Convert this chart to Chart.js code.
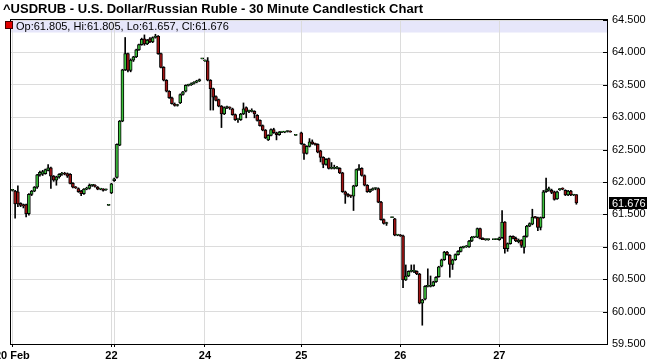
<!DOCTYPE html>
<html><head><meta charset="utf-8">
<script src="https://cdn.jsdelivr.net/npm/chart.js@4"></script>
<style>html,body{margin:0;padding:0;background:#fff;overflow:hidden}</style>
</head><body>
<canvas id="c" width="648" height="363"></canvas>
<script>
const titleText = '^USDRUB - U.S. Dollar/Russian Ruble - 30 Minute Candlestick Chart';
const legendText = 'Op:61.805, Hi:61.805, Lo:61.657, Cl:61.676';
const slotCount = 217;
const tickIdx  = [0, 36, 37, 70, 105, 141, 177];
const tickText = ['20 Feb', '22', '', '24', '25', '26', '27'];
const yMin = 59.5, yMax = 64.5, yStep = 0.5;

const openV = [
61.87,61.86,61.85,61.67,61.65,61.65,61.51,61.81,61.86,61.92,
62.11,62.12,62.13,62.18,62.22,62.09,62.03,62.08,62.12,62.13,
62.13,62.12,61.98,61.92,61.90,61.86,61.82,61.89,61.90,61.95,
61.95,61.92,61.89,61.89,61.88,61.64,
61.83,62.02,62.07,62.57,62.94,63.73,63.98,63.72,63.88,63.93,
64.04,64.12,64.21,64.13,64.21,64.16,64.23,64.25,63.98,63.77,
63.57,63.40,63.30,63.20,63.18,63.22,63.35,63.40,63.49,63.50,
63.52,63.54,63.56,63.90,
63.87,63.87,63.57,63.44,63.32,63.27,63.17,63.05,63.15,63.15,
63.13,63.04,62.96,62.96,63.05,63.15,63.09,63.09,63.09,63.03,
62.95,62.87,62.80,62.65,62.72,62.81,62.76,62.73,62.77,62.77,
62.78,62.78,null,62.72,null,
62.76,62.58,62.44,62.55,62.62,62.59,62.58,62.48,62.38,62.27,
62.36,62.21,62.21,62.21,62.21,62.14,61.85,61.81,61.79,61.78,
61.94,62.19,62.21,62.10,61.95,61.85,61.88,61.90,61.90,61.69,
61.42,61.36,null,61.45,61.43,61.18,
61.18,61.17,60.49,60.55,60.62,60.62,60.62,60.58,60.13,60.19,
60.39,60.39,60.40,60.46,60.54,60.70,60.80,60.92,60.87,60.73,
60.80,60.88,60.93,60.99,61.00,61.00,61.09,61.15,61.15,61.28,
61.13,61.11,61.11,null,61.11,61.11,
61.11,61.14,61.38,60.97,61.05,61.16,61.13,61.08,61.10,60.99,
61.16,61.32,61.35,61.46,61.45,61.30,61.45,61.85,61.88,61.87,
61.85,61.74,61.88,61.90,61.87,61.80,61.86,61.80,61.805
];
const highV = [
61.88,61.87,61.94,61.68,61.66,61.66,61.82,61.87,61.93,62.12,
62.17,62.18,62.20,62.27,62.23,62.10,62.09,62.13,62.15,62.15,
62.14,62.13,61.99,61.93,61.91,61.87,61.90,61.92,61.97,61.96,
61.96,61.93,61.90,61.90,61.89,61.64,
61.98,62.06,62.59,62.95,63.74,64.23,63.99,63.90,63.94,64.05,
64.13,64.22,64.27,64.20,64.23,64.24,64.28,64.26,63.99,63.78,
63.58,63.41,63.31,63.22,63.20,63.36,63.40,63.50,63.51,63.53,
63.55,63.57,63.59,63.90,
63.88,63.92,63.58,63.45,63.33,63.28,63.18,63.16,63.17,63.16,
63.14,63.05,62.98,63.06,63.22,63.16,63.11,63.13,63.10,63.04,
62.96,62.88,62.81,62.73,62.82,62.83,62.77,62.78,62.78,62.78,
62.79,62.79,null,62.72,null,
62.77,62.59,62.56,62.67,62.65,62.60,62.59,62.49,62.39,62.36,
62.37,62.30,62.26,62.24,62.22,62.15,61.86,61.82,61.80,61.95,
62.20,62.27,62.22,62.11,61.96,61.89,61.91,61.91,61.91,61.70,
61.43,61.38,null,61.45,61.44,61.19,
61.19,61.18,60.72,60.63,60.72,60.72,60.63,60.59,60.19,60.40,
60.66,60.55,60.47,60.54,60.70,60.81,60.93,60.93,60.88,60.81,
60.89,60.94,61.00,61.01,61.02,61.10,61.16,61.16,61.29,61.29,
61.14,61.12,61.12,null,61.11,61.12,
61.15,61.56,61.39,61.06,61.17,61.17,61.15,61.12,61.11,61.17,
61.33,61.37,61.58,61.47,61.46,61.46,61.87,62.06,61.92,61.89,
61.86,61.86,61.90,61.91,61.88,61.87,61.87,61.81,61.805
];
const lowV = [
61.86,61.44,61.62,61.62,61.60,61.46,61.49,61.79,61.85,61.90,
62.09,62.10,62.12,62.17,61.90,62.01,61.95,62.06,62.10,62.11,
62.07,61.97,61.91,61.90,61.84,61.79,61.81,61.88,61.89,61.93,
61.92,61.88,61.88,61.86,61.87,61.64,
61.82,62.01,62.06,62.56,62.93,63.72,63.70,63.70,63.86,63.92,
64.03,64.11,64.11,64.12,64.15,64.15,64.22,63.97,63.76,63.56,
63.39,63.29,63.20,63.17,63.17,63.21,63.34,63.39,63.48,63.49,
63.51,63.53,63.55,63.90,
63.86,63.56,63.11,63.11,63.25,63.16,62.84,63.04,63.13,63.12,
63.03,62.95,62.92,62.95,63.04,62.99,63.07,63.08,62.99,62.94,
62.86,62.79,62.67,62.64,62.71,62.75,62.65,62.72,62.76,62.76,
62.77,62.77,null,62.72,null,
62.58,62.35,62.43,62.54,62.58,62.57,62.45,62.31,62.22,62.26,
62.20,62.20,62.20,62.20,62.13,61.84,61.67,61.77,61.76,61.56,
61.93,62.18,62.09,61.94,61.84,61.84,61.87,61.88,61.68,61.41,
61.35,61.33,null,61.45,61.17,61.17,
61.16,60.37,60.48,60.54,60.61,60.60,60.57,60.12,59.79,60.18,
60.38,60.38,60.39,60.45,60.53,60.69,60.79,60.87,60.53,60.65,
60.79,60.87,60.92,60.98,60.99,60.99,61.08,61.14,61.14,61.12,
61.11,61.10,61.10,null,61.11,61.11,
61.10,61.13,60.90,60.93,61.04,61.12,61.08,61.06,60.99,60.90,
61.15,61.31,61.34,61.44,61.25,61.26,61.44,61.84,61.86,61.82,
61.72,61.73,61.87,61.88,61.79,61.79,61.79,61.79,61.657
];
const closeV = [
61.87,61.66,61.66,61.64,61.63,61.51,61.81,61.86,61.92,62.11,
62.15,62.16,62.19,62.22,62.09,62.03,62.08,62.12,62.13,62.12,
62.09,61.98,61.92,61.91,61.85,61.82,61.89,61.90,61.95,61.95,
61.93,61.89,61.89,61.87,61.88,61.64,
61.97,62.05,62.58,62.94,63.73,63.98,63.72,63.88,63.93,64.04,
64.12,64.20,64.13,64.19,64.16,64.23,64.25,63.98,63.77,63.57,
63.40,63.30,63.21,63.18,63.19,63.35,63.39,63.49,63.50,63.52,
63.54,63.56,63.58,63.90,
63.87,63.57,63.44,63.31,63.26,63.17,63.05,63.15,63.15,63.14,
63.04,62.96,62.96,63.05,63.13,63.09,63.09,63.09,63.05,62.95,
62.87,62.80,62.68,62.72,62.81,62.76,62.73,62.77,62.77,62.78,
62.78,62.77,null,62.72,null,
62.59,62.44,62.55,62.62,62.59,62.58,62.46,62.38,62.27,62.35,
62.21,62.21,62.21,62.21,62.14,61.85,61.81,61.78,61.78,61.94,
62.19,62.21,62.10,61.95,61.85,61.88,61.90,61.90,61.69,61.42,
61.36,61.36,null,61.45,61.18,61.18,
61.17,60.49,60.55,60.62,60.62,60.62,60.58,60.13,60.18,60.39,
60.39,60.40,60.46,60.53,60.69,60.80,60.92,60.88,60.73,60.80,
60.88,60.93,60.99,61.00,61.01,61.09,61.15,61.15,61.28,61.13,
61.11,61.11,61.11,null,61.11,61.11,
61.14,61.38,60.97,61.05,61.16,61.13,61.09,61.10,61.02,61.16,
61.32,61.36,61.46,61.45,61.30,61.45,61.85,61.88,61.90,61.84,
61.73,61.85,61.90,61.89,61.80,61.86,61.80,61.80,61.676
];

const UP = '#3cc03c', DOWN = '#a01414';
const FONT = '"Liberation Sans", Arial, sans-serif';
const labels = Array.from({length: slotCount}, (_, i) => String(i));
const bodies = openV.map((o, i) => o == null ? null : [o, closeV[i]]);
const wicks = lowV.map((l, i) => l == null ? null : [l, highV[i]]);
const bodyColors = openV.map((o, i) => o == null ? UP : (closeV[i] >= o ? UP : DOWN));
const lastClose = closeV[closeV.length - 1];

const deco = {
  id: 'deco',
  beforeDraw(chart) {
    const {ctx, chartArea: a} = chart;
    ctx.save();
    ctx.fillStyle = '#fff';
    ctx.fillRect(0, 0, chart.width, chart.height);
    ctx.fillStyle = '#e6e6fa';
    ctx.fillRect(a.left, a.top, a.right - a.left, 12.5);
    ctx.restore();
  },
  afterDraw(chart) {
    const {ctx, chartArea: a, scales} = chart;
    const ys = scales.y;
    ctx.save();
    ctx.strokeStyle = '#000';
    ctx.lineWidth = 1;
    ctx.strokeRect(a.left - 0.5, a.top - 0.5, a.right - a.left, a.bottom - a.top + 1);
    ctx.beginPath();
    ys.ticks.forEach(t => {
      const py = Math.round(ys.getPixelForValue(t.value)) + 0.5;
      ctx.moveTo(a.right - 5, py);
      ctx.lineTo(a.right, py);
    });
    ctx.stroke();
    // title
    ctx.fillStyle = '#000';
    ctx.font = 'bold 13px ' + FONT;
    ctx.textBaseline = 'alphabetic';
    ctx.textAlign = 'left';
    ctx.fillText(titleText, 3, 13);
    // legend
    ctx.fillStyle = '#e00000';
    ctx.fillRect(5, 21, 8, 8);
    ctx.strokeStyle = '#400';
    ctx.strokeRect(5.5, 21.5, 7, 7);
    ctx.fillStyle = '#000';
    ctx.font = '11px ' + FONT;
    ctx.fillText(legendText, 16, 30);
    // last value marker
    const py = ys.getPixelForValue(lastClose);
    ctx.fillStyle = '#000';
    ctx.fillRect(a.right + 1, Math.round(py) - 6, 38, 12);
    ctx.fillStyle = '#fff';
    ctx.font = '11px ' + FONT;
    ctx.textBaseline = 'middle';
    ctx.fillText(lastClose.toFixed(3), a.right + 4, Math.round(py) + 0.5);
    ctx.restore();
  }
};

new Chart(document.getElementById('c'), {
  type: 'bar',
  data: {
    labels: labels,
    datasets: [
      { data: bodies, backgroundColor: bodyColors, borderColor: '#000', borderWidth: 1,
        borderSkipped: false, barThickness: 3, minBarLength: 1, grouped: false, order: 0 },
      { data: wicks, backgroundColor: '#000', borderWidth: 0, barThickness: 1,
        grouped: false, order: 1 }
    ]
  },
  options: {
    responsive: false,
    animation: false,
    devicePixelRatio: 1,
    layout: { padding: { left: 11, top: 20, right: 0, bottom: 0 } },
    plugins: { legend: { display: false }, tooltip: { enabled: false }, title: { display: false } },
    scales: {
      x: {
        type: 'category',
        offset: true,
        grid: { offset: false, color: '#dcdcdc', tickColor: '#000', tickLength: 3 },
        border: { display: false },
        ticks: { autoSkip: false, maxRotation: 0, padding: 2, color: '#000',
          font: { family: FONT, size: 11, weight: 'bold' },
          callback: (v, i) => tickText[i] },
        afterBuildTicks: s => { s.ticks = tickIdx.map(i => ({ value: i })); },
        afterFit: s => { s.height = 19; s.paddingLeft = 0; s.paddingRight = 0; }
      },
      y: {
        type: 'linear',
        position: 'right',
        min: yMin, max: yMax,
        grid: { color: '#dcdcdc', drawTicks: false },
        border: { display: false },
        ticks: { stepSize: yStep, padding: 4, color: '#000',
          font: { family: FONT, size: 11 },
          callback: v => v.toFixed(3) },
        afterFit: s => { s.width = 40; s.paddingTop = 0; s.paddingBottom = 0; }
      }
    }
  },
  plugins: [deco]
});
</script>
</body></html>
